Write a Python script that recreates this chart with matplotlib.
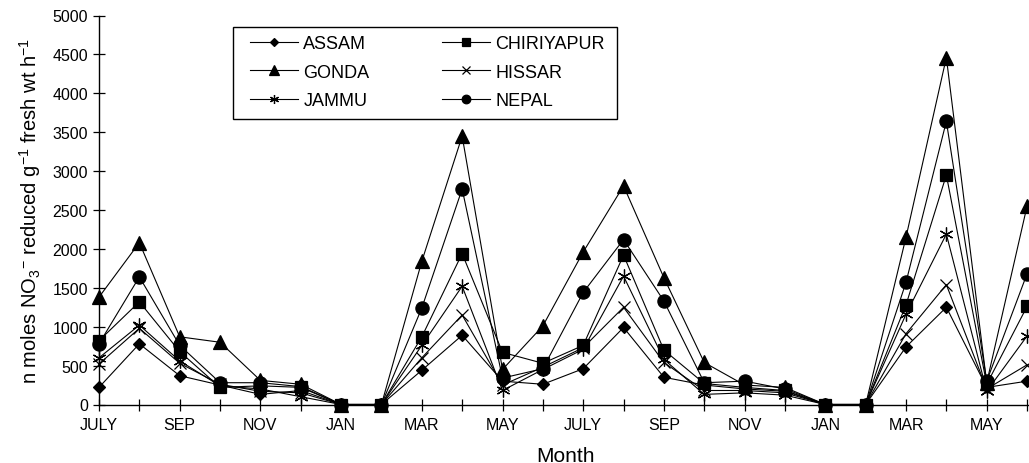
import matplotlib
matplotlib.use("Agg")
import matplotlib.pyplot as plt
from matplotlib.patches import Rectangle

plt.rcParams['font.family'] = ['Liberation Sans', 'DejaVu Sans']
plt.rcParams['mathtext.default'] = 'regular'

# Monthly sampling over two years, starting in July
months = ['JULY', 'AUG', 'SEP', 'OCT', 'NOV', 'DEC',
          'JAN', 'FEB', 'MAR', 'APR', 'MAY', 'JUNE'] * 2

assam      = [220, 780, 370, 250, 130, 180, 0, 0, 440, 890, 300, 260,
              460, 990, 350, 250, 200, 170, 0, 0, 740, 1250, 220, 300]
chiriyapur = [820, 1320, 680, 220, 240, 220, 0, 0, 870, 1940, 670, 530,
              760, 1920, 700, 270, 220, 180, 0, 0, 1280, 2950, 260, 1260]
gonda      = [1380, 2080, 870, 800, 310, 260, 0, 0, 1840, 3450, 450, 1010,
              1960, 2810, 1630, 540, 250, 220, 0, 0, 2150, 4460, 280, 2550]
hissar     = [520, 980, 530, 260, 170, 150, 0, 0, 600, 1150, 250, 480,
              730, 1250, 540, 180, 180, 150, 0, 0, 910, 1540, 200, 510]
jammu      = [600, 1020, 560, 240, 200, 100, 0, 0, 760, 1520, 180, 450,
              710, 1650, 580, 130, 150, 120, 0, 0, 1160, 2190, 170, 880]
nepal      = [780, 1640, 760, 280, 280, 230, 0, 0, 1240, 2770, 340, 460,
              1440, 2120, 1330, 280, 300, 200, 0, 0, 1570, 3640, 300, 1680]

series = [
    ('ASSAM', assam, 'D', 6.5),
    ('CHIRIYAPUR', chiriyapur, 's', 9),
    ('GONDA', gonda, '^', 10),
    ('HISSAR', hissar, 'x', 9),
    ('JAMMU', jammu, (6, 2, 0), 10),
    ('NEPAL', nepal, 'o', 9.5),
]

W, H = 1029, 464
fig = plt.figure(figsize=(W / 100, H / 100), dpi=100)
month_px = 40.35
x_max = 23.1
ax = fig.add_axes([99 / W, 1 - 405.5 / H, x_max * month_px / W, 389 / H])

x = list(range(len(months)))
lines = {}
for name, vals, mk, ms in series:
    ln, = ax.plot(x, vals, color='black', lw=0.8, marker=mk, ms=ms,
                  mfc='black', mec='black', mew=0.9, clip_on=False,
                  label=name)
    lines[name] = ln

ax.set_xlim(0, x_max)
ax.set_ylim(0, 5000)
ax.set_yticks(range(0, 5001, 500))
ax.set_xticks(x)
ax.set_xticklabels([m if i % 2 == 0 else '' for i, m in enumerate(months)])

for s in ('top', 'right'):
    ax.spines[s].set_visible(False)
for s in ('left', 'bottom'):
    ax.spines[s].set_linewidth(1.0)

ax.tick_params(axis='both', direction='inout', length=8, width=0.9,
               labelsize=11.5, colors='black')
ax.tick_params(axis='x', pad=5)
ax.tick_params(axis='y', pad=4)

ax.set_ylabel(r'n moles NO$_3$$^{-}$ reduced g$^{-1}$ fresh wt h$^{-1}$',
              fontsize=14.5)
ax.yaxis.set_label_coords(-0.060, 0.5)
ax.set_xlabel('Month', fontsize=15)
ax.xaxis.set_label_coords(0.5, -0.106)

order = ['ASSAM', 'GONDA', 'JAMMU', 'CHIRIYAPUR', 'HISSAR', 'NEPAL']
leg = fig.legend([lines[n] for n in order], order, ncol=2,
                 loc='upper left', bbox_to_anchor=(250 / W, 1 - 36 / H),
                 bbox_transform=fig.transFigure, frameon=False,
                 fontsize=13, markerscale=0.65, handlelength=2.66,
                 handletextpad=0.3, columnspacing=4.0, labelspacing=0.65,
                 borderpad=0, borderaxespad=0)

# Rectangular frame around the legend with wider side margins
fig.canvas.draw()
bb = leg.get_window_extent(fig.canvas.get_renderer())
x0, x1 = bb.x0 - 17, bb.x1 + 12
y0, y1 = bb.y0 - 10, bb.y1 + 8
fig.patches.append(Rectangle((x0 / W, y0 / H), (x1 - x0) / W, (y1 - y0) / H,
                             transform=fig.transFigure, fill=False,
                             edgecolor='black', linewidth=1.0, zorder=5))

fig.savefig('out.png', dpi=100)
